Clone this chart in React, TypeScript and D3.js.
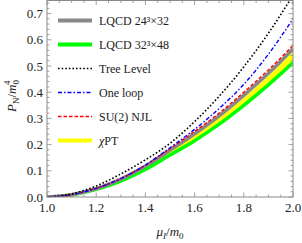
import React from 'react';
import * as d3 from 'd3';

// chemical potential grid (mu_I / m_0)
const mu = [1.0, 1.1, 1.2, 1.3, 1.4, 1.5, 1.6, 1.7, 1.8, 1.9, 2.0];

// pressure P_N / m_0^4
const treeLevel = [0, 0.012, 0.042, 0.088, 0.142, 0.205, 0.288, 0.385, 0.497, 0.625, 0.77];
const oneLoop = [0, 0.009, 0.033, 0.07, 0.122, 0.188, 0.258, 0.338, 0.43, 0.545, 0.68];
const njl = [0, 0.009, 0.033, 0.07, 0.121, 0.185, 0.25, 0.32, 0.4, 0.485, 0.578];
const lqcd24 = [0, 0.009, 0.032, 0.068, 0.118, 0.178, 0.241, 0.31, 0.388, 0.472, 0.565];
const lqcd32 = [0, 0.008, 0.029, 0.061, 0.105, 0.16, 0.215, 0.278, 0.35, 0.428, 0.513];
const chptUpper = [0, 0.009, 0.032, 0.067, 0.116, 0.175, 0.236, 0.303, 0.378, 0.462, 0.555];
const chptLower = [0, 0.008, 0.03, 0.063, 0.108, 0.163, 0.219, 0.283, 0.355, 0.434, 0.52];

const xTicks = [1.0, 1.2, 1.4, 1.6, 1.8, 2.0];
const yTicks = [0.0, 0.1, 0.2, 0.3, 0.4, 0.5, 0.6, 0.7];

const legendItems = [
  { label: 'LQCD 24³×32', color: '#888888', width: 4, dash: null },
  { label: 'LQCD 32³×48', color: '#00ff00', width: 4, dash: null },
  { label: 'Tree Level', color: '#000000', width: 1.6, dash: '1.6,2' },
  { label: 'One loop', color: '#0000ff', width: 1.4, dash: '4,2,1.5,2' },
  { label: 'SU(2) NJL', color: '#ff0000', width: 1.4, dash: '3.5,2' },
  { label: 'χPT', color: '#ffff00', width: 4, dash: null },
];

const W = 302;
const H = 243;
const margin = { top: 0.5, right: 9, bottom: 46, left: 47 };
const font = '"Liberation Serif", "Times New Roman", serif';
const frameColor = '#8a8a8a';

const App = () => {
  const x = d3.scaleLinear().domain([1, 2]).range([margin.left, W - margin.right]);
  const y = d3.scaleLinear().domain([0, 0.75]).range([H - margin.bottom, margin.top]);

  const line = (vals: number[]) =>
    d3.line<number>()
      .x((_, i) => x(mu[i]))
      .y(d => y(d))
      .curve(d3.curveMonotoneX)(vals) || '';

  const band = d3.area<number>()
    .x((_, i) => x(mu[i]))
    .y0((_, i) => y(chptLower[i]))
    .y1((_, i) => y(chptUpper[i]))
    .curve(d3.curveMonotoneX)(mu) || '';

  const x0 = margin.left;
  const x1 = W - margin.right;
  const y0 = H - margin.bottom;
  const y1 = margin.top;

  const xMinor = d3.range(1, 2.0001, 0.05);
  const yMinor = d3.range(0, 0.7501, 0.02);

  return (
    <>
      <style>{`body{margin:0;background:#fff}`}</style>
      <svg width={W} height={H} style={{ display: 'block', fontFamily: font }}>
        <defs>
          <clipPath id="plot">
            <rect x={x0} y={y1} width={x1 - x0} height={y0 - y1} />
          </clipPath>
        </defs>

        <g clipPath="url(#plot)">
          <path d={band} fill="#ffff00" />
          <path d={line(lqcd32)} fill="none" stroke="#00ff00" strokeWidth={3.5} />
          <path d={line(lqcd24)} fill="none" stroke="#888888" strokeWidth={3.5} />
          <path d={line(njl)} fill="none" stroke="#ff0000" strokeWidth={1.4} strokeDasharray="3.5,2" />
          <path d={line(oneLoop)} fill="none" stroke="#0000ff" strokeWidth={1.4} strokeDasharray="4,2,1.5,2" />
          <path d={line(treeLevel)} fill="none" stroke="#000000" strokeWidth={1.6} strokeDasharray="1.6,2" />
        </g>

        {/* frame */}
        <rect x={x0} y={y1} width={x1 - x0} height={y0 - y1} fill="none" stroke={frameColor} strokeWidth={1} />

        {/* x ticks, bottom and top */}
        {xMinor.map((t, i) => {
          const major = xTicks.some(v => Math.abs(v - t) < 1e-6);
          const len = major ? 4.5 : 2.5;
          return (
            <g key={'xt' + i} stroke={frameColor} strokeWidth={0.8}>
              <line x1={x(t)} x2={x(t)} y1={y0} y2={y0 - len} />
              <line x1={x(t)} x2={x(t)} y1={y1} y2={y1 + len} />
            </g>
          );
        })}
        {/* y ticks, left and right */}
        {yMinor.map((t, i) => {
          const major = yTicks.some(v => Math.abs(v - t) < 1e-6);
          const len = major ? 4.5 : 2.5;
          return (
            <g key={'yt' + i} stroke={frameColor} strokeWidth={0.8}>
              <line x1={x0} x2={x0 + len} y1={y(t)} y2={y(t)} />
              <line x1={x1} x2={x1 - len} y1={y(t)} y2={y(t)} />
            </g>
          );
        })}

        {xTicks.map(t => (
          <text key={'xl' + t} x={x(t)} y={y0 + 15} textAnchor="middle" fontSize={13} fill="#222">
            {t.toFixed(1)}
          </text>
        ))}
        {yTicks.map(t => (
          <text key={'yl' + t} x={x0 - 4} y={y(t) + 4.5} textAnchor="end" fontSize={13} fill="#222">
            {t.toFixed(1)}
          </text>
        ))}

        {/* axis labels */}
        <text x={(x0 + x1) / 2} y={236} textAnchor="middle" fontSize={13} fill="#222">
          <tspan fontStyle="italic">μ</tspan>
          <tspan fontSize={9} fontStyle="italic" dy={3}>I</tspan>
          <tspan dy={-3}>/</tspan>
          <tspan fontStyle="italic">m</tspan>
          <tspan fontSize={9} dy={3}>0</tspan>
        </text>
        <text transform={`translate(16,${96}) rotate(-90)`} textAnchor="middle" fontSize={13} fill="#222">
          <tspan fontStyle="italic">P</tspan>
          <tspan fontSize={9} dy={3}>N</tspan>
          <tspan dy={-3}>/</tspan>
          <tspan fontStyle="italic">m</tspan>
          <tspan fontSize={9} dy={3}>0</tspan>
          <tspan fontSize={9} dx={-5} dy={-9}>4</tspan>
        </text>

        {/* legend */}
        {legendItems.map((item, i) => {
          const ly = 20.5 + i * 24;
          return (
            <g key={item.label}>
              <line x1={58} x2={92} y1={ly} y2={ly} stroke={item.color} strokeWidth={item.width}
                strokeDasharray={item.dash || undefined} />
              <text x={99} y={ly + 4} fontSize={12} fill="#222">
                {item.label === 'χPT' ? (
                  <>
                    <tspan fontStyle="italic">χ</tspan>PT
                  </>
                ) : item.label}
              </text>
            </g>
          );
        })}
      </svg>
    </>
  );
};

export default App;
